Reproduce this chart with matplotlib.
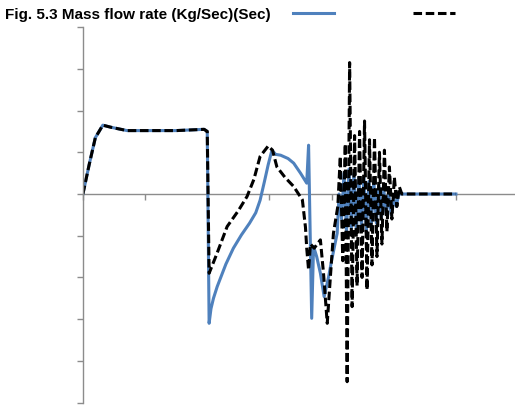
import matplotlib
matplotlib.use('Agg')
import matplotlib.pyplot as plt

# series 1 (blue, solid)
x_blue = [0.0, 0.1, 0.2, 0.32, 0.45, 0.71, 1.0, 1.5, 1.95, 2.0,
          2.03, 2.06, 2.1, 2.16, 2.23, 2.3, 2.42, 2.55, 2.68, 2.78, 2.85, 2.92, 2.98, 3.04,
          3.1, 3.18, 3.3, 3.39, 3.5, 3.6,
          3.63, 3.68, 3.71, 3.76, 3.82, 3.88, 3.95, 4.0, 4.09,
          4.12, 4.16, 4.20, 4.24, 4.28, 4.32, 4.36, 4.40, 4.44, 4.48, 4.52, 4.56, 4.60, 4.64,
          4.68, 4.72, 4.76, 4.80, 4.84, 4.88, 4.92, 4.96, 5.00, 5.04, 5.08, 5.2, 6.0]
y_blue = [0.0, 0.7, 1.35, 1.65, 1.6, 1.52, 1.52, 1.52, 1.55, 1.5,
          -3.1, -2.75, -2.5, -2.22, -1.95, -1.68, -1.3, -0.98, -0.7, -0.45, -0.15, 0.3, 0.7, 1.05,
          0.95, 0.93, 0.85, 0.74, 0.5, 0.26,
          1.17, -2.98, -1.26, -1.5, -1.9, -2.46, -2.0, -1.6, -0.94,
          0.0, -0.6, 0.5, -0.9, 0.6, -0.8, 0.5, -0.9, 0.4, -0.8, 0.4, -0.9, 0.3, -0.7,
          0.3, -0.7, 0.2, -0.6, 0.1, -0.5, 0.0, -0.5, -0.1, -0.3, 0.0, 0.0, 0.0]

# series 2 (black, dashed)
x_black = [0.0, 0.1, 0.2, 0.32, 0.45, 0.71, 1.0, 1.5, 1.95, 2.0,
           2.03, 2.15, 2.32, 2.5, 2.64, 2.75, 2.85, 2.98, 3.05, 3.12, 3.25, 3.39, 3.53,
           3.58, 3.6, 3.63, 3.66, 3.72, 3.82, 3.87, 3.93, 3.98, 4.03,
           4.10, 4.14, 4.18, 4.22, 4.25, 4.29, 4.33, 4.37, 4.41, 4.45, 4.49, 4.53, 4.57,
           4.61, 4.65, 4.69, 4.73, 4.77, 4.81, 4.85, 4.89, 4.93, 4.97, 5.01, 5.05, 5.09,
           5.13, 5.5, 6.0]
y_black = [0.0, 0.7, 1.35, 1.65, 1.6, 1.52, 1.52, 1.52, 1.55, 1.5,
           -1.9, -1.45, -0.78, -0.4, -0.06, 0.35, 0.9, 1.15, 1.05, 0.65, 0.4, 0.18, -0.14,
           -0.8, -1.3, -1.82, -1.2, -1.3, -1.1, -1.9, -3.1, -2.0, -0.94,
           -0.3, 0.9, -1.6, 1.2, -4.5, 3.15, -2.7, 1.4, -2.2, 1.5, -2.0, 1.75, -2.3,
           1.3, -1.7, 1.35, -1.5, 1.0, -1.2, 1.05, -0.9, 0.65, -0.6, 0.4, -0.3, 0.17,
           0.0, 0.0, 0.0]

title = 'Fig. 5.3 Mass flow rate (Kg/Sec)(Sec)'
x_ticks = [0, 1, 2, 3, 4, 5, 6]
y_ticks = [-5, -4, -3, -2, -1, 0, 1, 2, 3, 4]

fig = plt.figure(figsize=(5.15, 4.05), dpi=100)
ax = fig.add_axes([0.161, 0.006, 0.845, 0.927])

ax.plot(x_blue, y_blue, color='#4f81bd', lw=2.2, label=' ')
ax.plot(x_black, y_black, color='black', lw=2.2, dashes=(2.8, 1.2), label=' ')

ax.set_xlim(0, 7)
ax.set_ylim(-5, 4)
ax.set_xticks(x_ticks)
ax.set_yticks(y_ticks)
ax.set_xticklabels([])
ax.set_yticklabels([])

ax.spines['top'].set_visible(False)
ax.spines['right'].set_visible(False)
ax.spines['bottom'].set_position(('data', 0))
for s in ['left', 'bottom']:
    ax.spines[s].set_color('#8c8c8c')
    ax.spines[s].set_linewidth(1.0)
ax.spines['bottom'].set_zorder(0)
ax.tick_params(axis='both', direction='out', length=4, color='#8c8c8c', width=1)

ax.legend(ncol=2, frameon=False, loc='center', bbox_to_anchor=(0.734, 0.965),
          bbox_transform=fig.transFigure, handlelength=3.0, columnspacing=5.05,
          handletextpad=0.3, fontsize=10)

fig.text(0.01, 0.962, title, fontsize=11, fontweight='bold', va='center',
         family='Liberation Sans')

fig.savefig('out.png', dpi=100)
